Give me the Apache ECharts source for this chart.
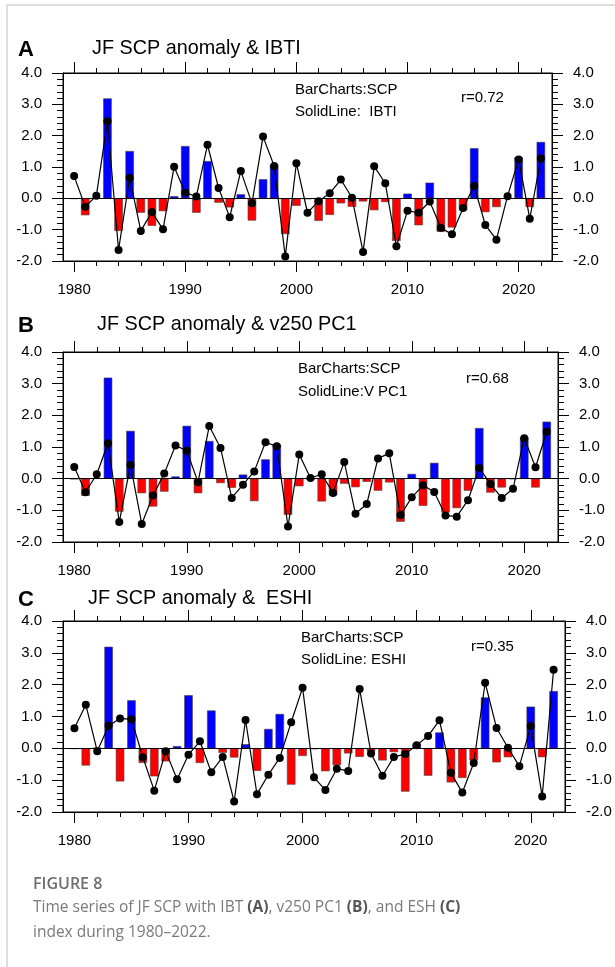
<!DOCTYPE html>
<html>
<head>
<meta charset="utf-8">
<script src="https://cdn.jsdelivr.net/npm/echarts@6/dist/echarts.min.js"></script>
<style>
html,body{margin:0;padding:0;background:#fff;}
#main{width:615px;height:967px;}
</style>
</head>
<body>
<div id="main"></div>
<script>
/*数据*/
var years = [1980,1981,1982,1983,1984,1985,1986,1987,1988,1989,
             1990,1991,1992,1993,1994,1995,1996,1997,1998,1999,
             2000,2001,2002,2003,2004,2005,2006,2007,2008,2009,
             2010,2011,2012,2013,2014,2015,2016,2017,2018,2019,
             2020,2021,2022];
//JF SCP anomaly (bars)
var scp = [-0.02,-0.54,0.02,3.19,-1.04,1.51,-0.46,-0.88,-0.41,0.07,
           1.67,-0.46,1.19,-0.14,-0.29,0.13,-0.71,0.61,1.08,-1.14,
           -0.24,-0.03,-0.72,-0.53,-0.16,-0.27,-0.10,-0.38,-0.12,-1.36,
           0.15,-0.86,0.50,-1.07,-0.93,-0.38,1.60,-0.44,-0.28,-0.01,
           1.31,-0.28,1.80];
//IBTI
var ibti = [0.71,-0.27,0.08,2.46,-1.65,0.66,-1.04,-0.44,-0.99,1.01,
            0.18,0.06,1.71,0.33,-0.60,0.87,-0.16,1.97,1.03,-1.86,
            1.12,-0.46,-0.09,0.16,0.60,0.02,-1.71,1.02,0.48,-1.53,
            -0.40,-0.46,-0.10,-0.94,-1.15,-0.31,0.39,-0.85,-1.32,0.07,
            1.24,-0.65,1.27];
//v250 PC1
var vpc1 = [0.37,-0.43,0.14,1.12,-1.37,0.43,-1.43,-0.53,0.16,1.05,
            0.88,-0.11,1.66,0.97,-0.61,-0.19,0.23,1.15,1.02,-1.51,
            0.76,0.02,0.14,-0.45,0.53,-1.11,-0.80,0.64,0.80,-1.15,
            -0.59,-0.21,-0.42,-1.16,-1.20,-0.68,0.34,-0.17,-0.61,-0.32,
            1.28,0.36,1.48];
//ESHI
var eshi = [0.63,1.37,-0.09,0.71,0.94,0.91,-0.28,-1.33,-0.09,-0.97,
            -0.20,0.22,-0.75,-0.27,-1.67,0.89,-1.44,-0.83,-0.30,0.82,
            1.90,-0.91,-1.31,-0.64,-0.71,1.86,-0.16,-0.86,-0.27,-0.18,
            0.10,0.39,0.88,-0.77,-1.39,-0.46,2.06,0.64,0.02,-0.56,
            0.70,-1.51,2.47];

//刻度
var majorYears = [1980,1990,2000,2010,2020];
var minorYears = [1980,1982,1984,1986,1988,1990,1992,1994,1996,1998,2000,
                  2002,2004,2006,2008,2010,2012,2014,2016,2018,2020,2022];

var letters = ['A','B','C'];
var titles = ['JF SCP anomaly & IBTI','JF SCP anomaly & v250 PC1','JF SCP anomaly &  ESHI'];
var lineNames = ['SolidLine:  IBTI','SolidLine:V PC1','SolidLine: ESHI'];
var rValues = ['r=0.72','r=0.68','r=0.35'];
var lines = [ibti,vpc1,eshi];

/*布局*/
var grids = [
    {left:63,top:73,width:489,height:188},
    {left:63,top:352,width:495,height:190},
    {left:63,top:621,width:502,height:191}
];
var titleY = [50,326,600];
var titleX = [92,97,88];
var noteX = [295,298,301];
var noteY = [90,369,638];
var lineY = [112,392,660];
var rX = [461,466,471];
var rY = [98,379,647];

var FONT = 'Liberation Sans';
var black = '#000';

function pairs(arr){
    var out = [];
    for(var k=0;k<years.length;k++){out.push([years[k],arr[k]]);}
    return out;
}

var xAxes = [], yAxes = [], series = [], gridList = [], graphics = [];

for(var i=0;i<3;i++){
    gridList.push({left:grids[i].left,top:grids[i].top,width:grids[i].width,height:grids[i].height,
        show:true,borderColor:black,borderWidth:1,backgroundColor:'transparent'});

    //x轴: 下主刻度(带标签) 下次刻度 上主刻度 上次刻度
    var xs = [
        {pos:'bottom',ticks:majorYears,len:11,label:true},
        {pos:'bottom',ticks:minorYears,len:5,label:false},
        {pos:'top',ticks:majorYears,len:11,label:false},
        {pos:'top',ticks:minorYears,len:5,label:false}
    ];
    xs.forEach(function(a){
        xAxes.push({
            gridIndex:i,type:'value',min:1979,max:2023,position:a.pos,
            axisLine:{show:true,onZero:false,lineStyle:{color:black,width:1}},
            axisTick:{show:true,inside:false,length:a.len,customValues:a.ticks,lineStyle:{color:black,width:1}},
            axisLabel:{show:a.label,customValues:majorYears,margin:21,color:black,fontSize:15,fontFamily:FONT,
                formatter:function(v){return String(v);}},
            splitLine:{show:false}
        });
    });

    //y轴: 左右两侧
    ['left','right'].forEach(function(p){
        yAxes.push({
            gridIndex:i,type:'value',min:-2,max:4,interval:1,position:p,
            axisLine:{show:true,onZero:false,lineStyle:{color:black,width:1}},
            axisTick:{show:true,inside:false,length:11,lineStyle:{color:black,width:1}},
            minorTick:{show:true,splitNumber:5,length:6,lineStyle:{color:black,width:1}},
            axisLabel:{margin:21,color:black,fontSize:15,fontFamily:FONT,
                formatter:function(v){return v.toFixed(1);}},
            splitLine:{show:false},
            minorSplitLine:{show:false}
        });
    });

    //SCP 柱状
    series.push({
        type:'bar',xAxisIndex:i*4,yAxisIndex:i*2,
        data:pairs(scp),barWidth:8.5,
        itemStyle:{
            color:function(p){return p.value[1]>=0?'#0000ff':'#ff0000';},
            borderColor:'#444',borderWidth:0.6
        },
        markLine:{silent:true,symbol:['none','none'],label:{show:false},
            lineStyle:{color:black,width:1,type:'solid'},data:[{yAxis:0}]},
        z:2
    });
    //指数折线
    series.push({
        type:'line',xAxisIndex:i*4,yAxisIndex:i*2,
        data:pairs(lines[i]),
        symbol:'circle',symbolSize:8,
        lineStyle:{color:black,width:1.2},
        itemStyle:{color:black},
        z:3
    });

    //文字
    graphics.push({type:'text',left:18,top:titleY[i]-11,
        style:{text:letters[i],font:'bold 22px '+FONT,fill:black}});
    graphics.push({type:'text',left:titleX[i],top:titleY[i]-11,
        style:{text:titles[i],font:'19.8px '+FONT,fill:black}});
    graphics.push({type:'text',left:noteX[i],top:noteY[i]-8,
        style:{text:'BarCharts:SCP',font:'15px '+FONT,fill:black}});
    graphics.push({type:'text',left:noteX[i],top:lineY[i]-8,
        style:{text:lineNames[i],font:'15px '+FONT,fill:black}});
    graphics.push({type:'text',left:rX[i],top:rY[i]-8,
        style:{text:rValues[i],font:'15px '+FONT,fill:black}});
}

//外框
graphics.push({type:'line',shape:{x1:7,y1:5,x2:615,y2:5},style:{stroke:'#d4d4d4',lineWidth:1.5}});
graphics.push({type:'line',shape:{x1:7,y1:5,x2:7,y2:967},style:{stroke:'#d4d4d4',lineWidth:1.5}});

//图注
graphics.push({type:'text',left:33,top:876,
    style:{text:'FIGURE 8',font:'600 16px "Open Sans"',fill:'#6e6e6e'}});
graphics.push({type:'text',left:33,top:900,
    style:{
        text:'Time series of JF SCP with IBT {b|(A)}, v250 PC1 {b|(B)}, and ESH {b|(C)}',
        font:'15.5px "Open Sans"',fill:'#7a7a7a',
        rich:{b:{font:'bold 15.5px "Open Sans"',fill:'#555'}}
    }});
graphics.push({type:'text',left:33,top:925,
    style:{text:'index during 1980\u20132022.',font:'15.5px "Open Sans"',fill:'#7a7a7a'}});

var myChart = echarts.init(document.getElementById('main'));
var option = {
    animation:false,
    backgroundColor:'#fff',
    grid:gridList,
    xAxis:xAxes,
    yAxis:yAxes,
    series:series,
    graphic:graphics
};
myChart.setOption(option);
</script>
</body>
</html>
